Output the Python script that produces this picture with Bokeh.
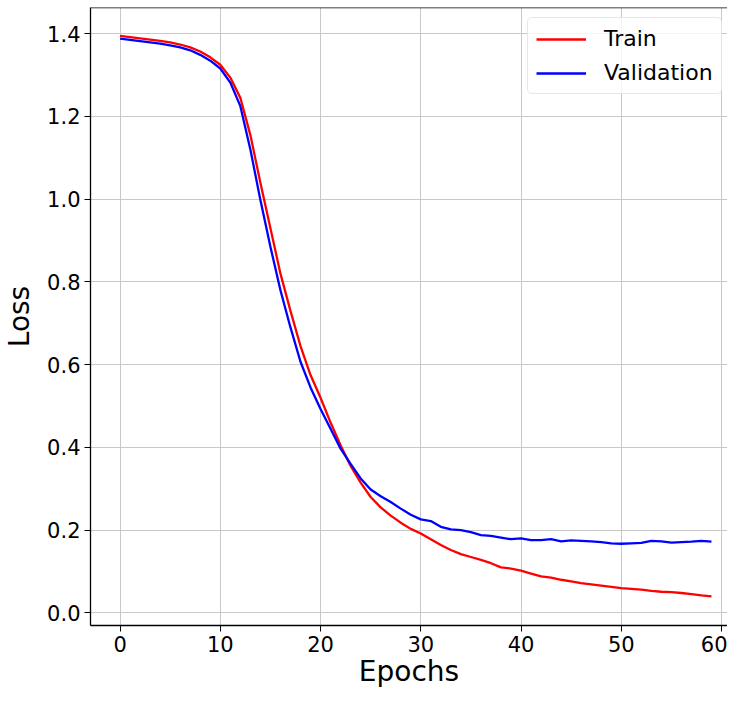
from bokeh.plotting import figure
from bokeh.models import FixedTicker, PrintfTickFormatter, Span, Legend, LegendItem
from bokeh.embed import file_html
from bokeh.resources import INLINE

epochs = list(range(60))
train_loss = [1.395, 1.392, 1.389, 1.386, 1.383, 1.379, 1.374, 1.367, 1.357, 1.343,
              1.325, 1.294, 1.245, 1.155, 1.040, 0.930, 0.820, 0.730, 0.645, 0.575,
              0.520, 0.460, 0.405, 0.355, 0.315, 0.280, 0.255, 0.235, 0.218, 0.203,
              0.192, 0.178, 0.164, 0.152, 0.142, 0.135, 0.128, 0.120, 0.110, 0.107,
              0.102, 0.095, 0.088, 0.085, 0.080, 0.076, 0.072, 0.069, 0.066, 0.063,
              0.060, 0.058, 0.056, 0.053, 0.051, 0.050, 0.048, 0.045, 0.042, 0.040]
val_loss = [1.388, 1.385, 1.382, 1.379, 1.376, 1.372, 1.367, 1.360, 1.349, 1.335,
            1.316, 1.282, 1.225, 1.120, 0.998, 0.885, 0.780, 0.690, 0.607, 0.545,
            0.493, 0.445, 0.397, 0.360, 0.325, 0.298, 0.282, 0.268, 0.252, 0.237,
            0.226, 0.222, 0.208, 0.202, 0.200, 0.195, 0.188, 0.186, 0.182, 0.178,
            0.180, 0.176, 0.176, 0.178, 0.173, 0.175, 0.174, 0.173, 0.171, 0.168,
            0.167, 0.168, 0.169, 0.174, 0.173, 0.170, 0.171, 0.172, 0.174, 0.172]
x_ticks = [0, 10, 20, 30, 40, 50, 60]
y_ticks = [0.0, 0.2, 0.4, 0.6, 0.8, 1.0, 1.2, 1.4]

FONT = "DejaVu Sans"
Y_TOP = 1.4635

p = figure(width=727, height=690, output_backend="svg", toolbar_location=None,
           x_range=(-2.95, 60.6), y_range=(-0.0306, Y_TOP),
           min_border_left=89, min_border_right=0, min_border_top=7, min_border_bottom=0)
p.background_fill_color = "white"
p.border_fill_color = "white"
p.outline_line_color = None

r_train = p.line(epochs, train_loss, line_color="#ff0000", line_width=2.3)
r_val = p.line(epochs, val_loss, line_color="#0000ff", line_width=2.3)

p.add_layout(Span(location=Y_TOP, dimension="width", line_color="black", line_width=1.3))

for ax, ticks in ((p.xaxis[0], x_ticks), (p.yaxis[0], y_ticks)):
    ax.ticker = FixedTicker(ticks=ticks)
    ax.minor_tick_line_color = None
    ax.major_tick_out = 6
    ax.major_tick_in = 0
    ax.major_tick_line_color = "black"
    ax.axis_line_color = "black"
    ax.axis_line_width = 1.3
    ax.major_label_text_font = FONT
    ax.major_label_text_font_size = "21px"
    ax.major_label_text_color = "black"
    ax.axis_label_text_font = FONT
    ax.axis_label_text_font_size = "28px"
    ax.axis_label_text_font_style = "normal"
    ax.axis_label_text_color = "black"
    ax.major_label_standoff = 4

p.xaxis.axis_label = "Epochs"
p.yaxis.axis_label = "Loss"
p.xaxis.axis_label_standoff = 0
p.yaxis.axis_label_standoff = 8
p.yaxis.formatter = PrintfTickFormatter(format="%.1f")

p.xgrid.grid_line_color = "#c8c8c8"
p.ygrid.grid_line_color = "#c8c8c8"
p.xgrid.grid_line_width = 1
p.ygrid.grid_line_width = 1

legend = Legend(items=[LegendItem(label="Train", renderers=[r_train]),
                       LegendItem(label="Validation", renderers=[r_val])],
                location=(437, 531))
legend.margin = 0
legend.padding = 8
legend.spacing = 9
legend.glyph_width = 50
legend.label_standoff = 18
legend.label_text_font = FONT
legend.label_text_font_size = "22px"
legend.label_text_color = "black"
legend.border_line_color = "#d0d0d0"
legend.border_line_width = 1
legend.border_radius = 5
legend.background_fill_alpha = 0.8
p.add_layout(legend)

open("out.html", "w").write(file_html(p, INLINE))
